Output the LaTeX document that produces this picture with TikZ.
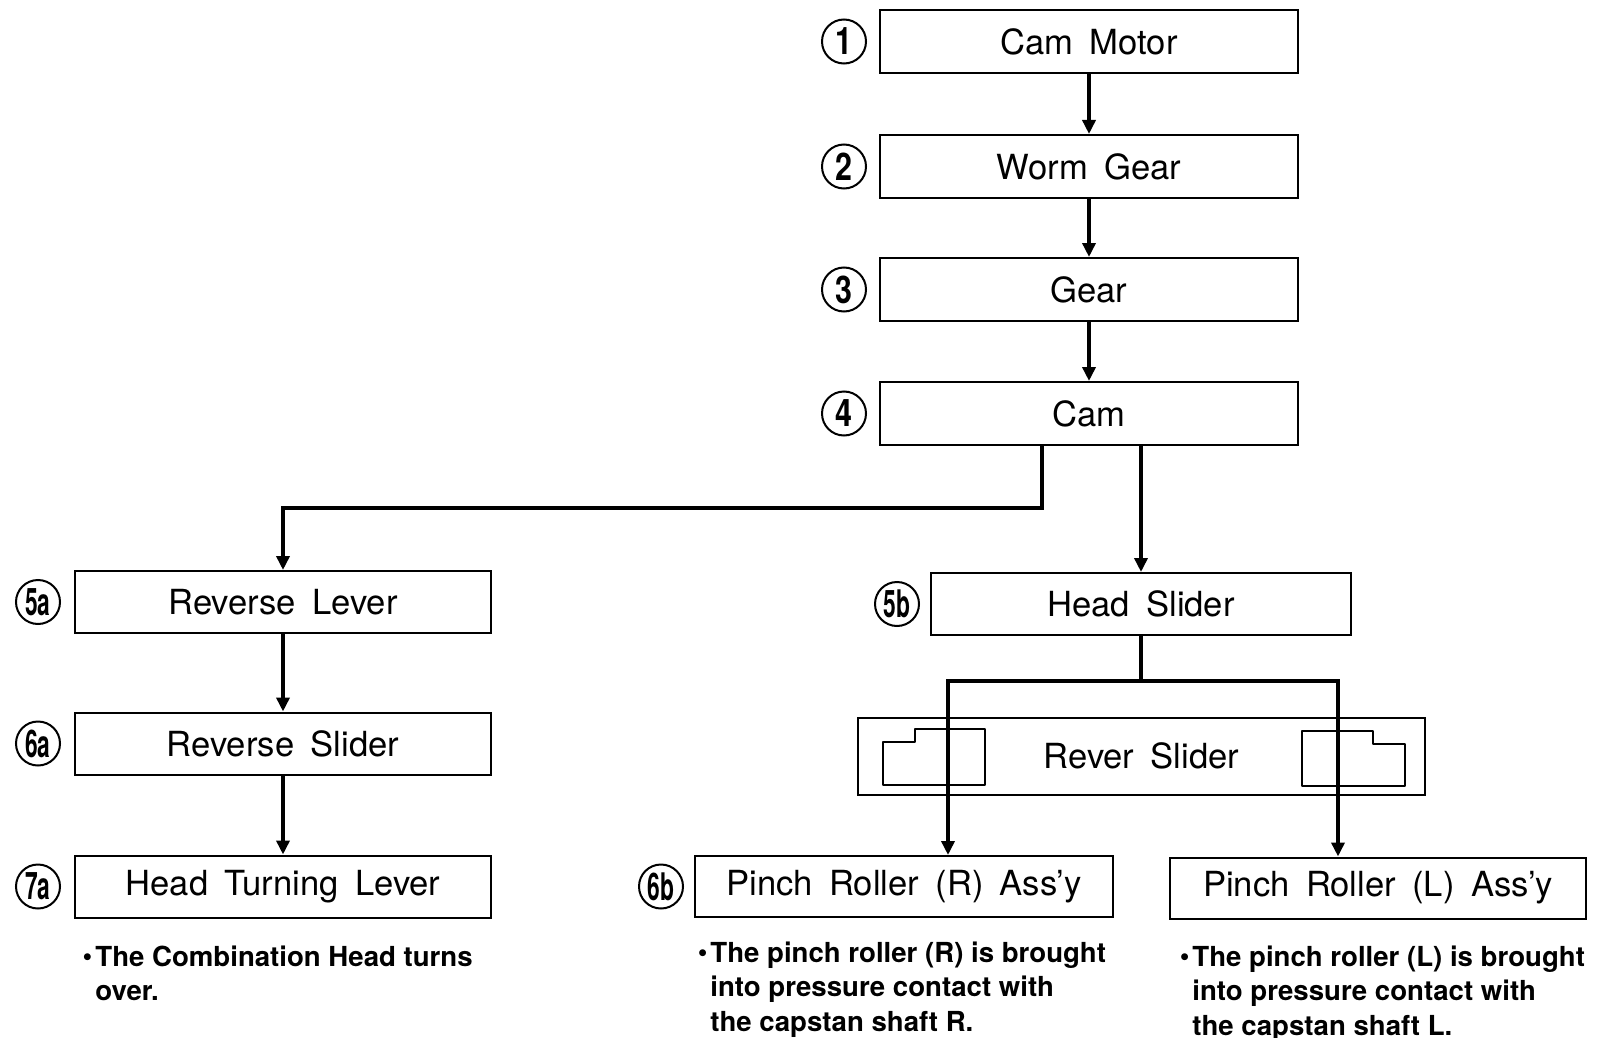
\documentclass[tikz,border=0pt]{standalone}
\usepackage{fontspec}
\usepackage{graphicx}
\setmainfont{TeX Gyre Heros}
\newfontfamily\boxfont[WordSpace=1.7]{TeX Gyre Heros}
\usetikzlibrary{arrows.meta}
\newcommand{\nb}{\leavevmode\llap{\raisebox{0.05ex}{\textbullet}\hspace{1.5pt}}}
\begin{document}
\begin{tikzpicture}[x=0.5pt,y=-0.5pt,
  box/.style={draw, line width=1pt, minimum width=209pt, minimum height=31.5pt, inner sep=0pt,
    font=\boxfont\fontsize{17.3}{20}\selectfont},
  num/.style={draw, circle, line width=1pt, minimum size=22pt, inner sep=0pt,
    font=\bfseries\fontsize{19}{20}\selectfont},
  arr/.style={line width=2.1pt, -{Triangle[length=7pt,width=6.5pt]}},
  link/.style={line width=2.1pt},
  notch/.style={line width=1.3pt, line join=round},
  note/.style={anchor=base west, inner sep=0pt, font=\bfseries\fontsize{13.8}{17.3}\selectfont},
]
\useasboundingbox (0,0) rectangle (1601,1038);

% main stack
\node[box] (cammotor) at (1089,41.5) {Cam Motor};
\node[box] (worm) at (1089,166.5) {Worm Gear};
\node[box] (gear) at (1089,289.5) {Gear};
\node[box] (cam) at (1089,413.5) {Cam};
\node[num] (n1) at ([xshift=-17.5pt]cammotor.west) {\scalebox{0.8}[1]{1}};
\node[num] (n2) at ([xshift=-17.5pt]worm.west) {\scalebox{0.8}[1]{2}};
\node[num] (n3) at ([xshift=-17.5pt]gear.west) {\scalebox{0.8}[1]{3}};
\node[num] (n4) at ([xshift=-17.5pt]cam.west) {\scalebox{0.8}[1]{4}};

% left column
\node[box, minimum width=208pt, minimum height=31pt] (revlever) at (283,602) {Reverse Lever};
\node[box, minimum width=208pt, minimum height=31pt] (revslider) at (283,743.5) {Reverse Slider};
\node[box, minimum width=208pt, minimum height=31pt] (htl) at (283,886.5) {Head Turning Lever};
\node[num] (n5a) at ([xshift=-18pt]revlever.west) {\scalebox{0.6}[1]{5a}};
\node[num] (n6a) at ([xshift=-18pt]revslider.west) {\scalebox{0.6}[1]{6a}};
\node[num] (n7a) at ([xshift=-18pt]htl.west) {\scalebox{0.6}[1]{7a}};

% right side
\node[box, minimum width=210pt, minimum height=31pt] (headslider) at (1141,604) {Head Slider};
\node[num] (n5b) at ([xshift=-16.5pt]headslider.west) {\scalebox{0.6}[1]{5b}};
\node[box, minimum width=283.5pt, minimum height=38.5pt] (reverslider) at (1141.5,756) {Rever Slider};
\node[box, minimum width=209pt, minimum height=30.5pt] (pinchR) at (904,886.5) {Pinch Roller (R) Ass’y};
\node[box, minimum width=208pt, minimum height=30.5pt] (pinchL) at (1378,888) {Pinch Roller (L) Ass’y};
\node[num] (n6b) at ([xshift=-16.5pt]pinchR.west) {\scalebox{0.6}[1]{6b}};

% notches inside Rever Slider
\draw[notch] (883,742) -- (915,742) -- (915,729) -- (985,729) -- (985,785) -- (883,785) -- cycle;
\draw[notch] (1302,731) -- (1373,731) -- (1373,744) -- (1405,744) -- (1405,786) -- (1302,786) -- cycle;

% connectors
\draw[arr] (cammotor) -- (worm);
\draw[arr] (worm) -- (gear);
\draw[arr] (gear) -- (cam);
\draw[arr] ([xshift=-23.5pt]cam.south) -- ++(0,62) -| (revlever.north);
\draw[arr] (cam.south -| headslider.north) -- (headslider.north);
\draw[arr] (revlever) -- (revslider);
\draw[arr] (revslider) -- (htl);
\coordinate (hb) at ([yshift=-22.5pt]headslider.south);
\draw[link] (headslider.south) -- (hb);
\draw[arr] (hb) -| ([xshift=22pt]pinchR.north);
\draw[arr] (hb) -| ([xshift=-20pt]pinchL.north);

% notes
\node[note] (note7a) at (95,966) {\parbox[t]{220pt}{\raggedright\nb The Combination Head turns\\over.}};
\node[note] (note6b) at (710,962) {\parbox[t]{220pt}{\raggedright\nb The pinch roller (R) is brought\\into pressure contact with\\the capstan shaft R.}};
\node[note] (note6c) at (1192,966) {\parbox[t]{220pt}{\raggedright\nb The pinch roller (L) is brought\\into pressure contact with\\the capstan shaft L.}};
\end{tikzpicture}
\end{document}
